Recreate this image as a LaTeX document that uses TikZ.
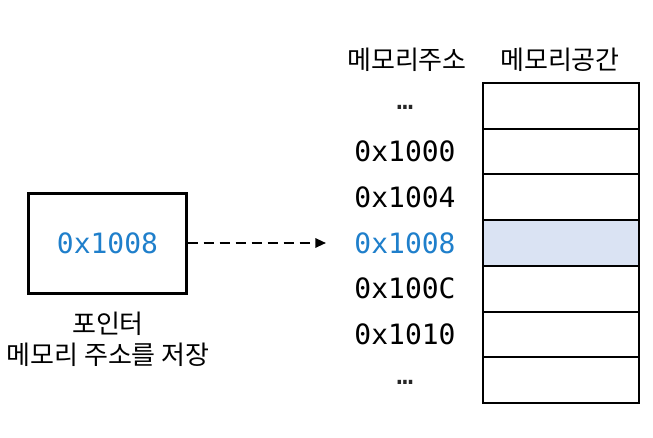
\documentclass[tikz,border=0pt]{standalone}
\usepackage{fontspec}
\setmainfont{Noto Sans CJK KR}
\newfontfamily\monofont{DejaVu Sans Mono}
\usetikzlibrary{arrows.meta}
\definecolor{addrblue}{HTML}{1F7FCB}
\definecolor{cellblue}{HTML}{DAE3F3}
\begin{document}
\begin{tikzpicture}[x=0.75pt,y=-0.75pt,
  cell/.style={draw=black, line width=1.5pt, minimum width=117pt, minimum height=34.3pt, inner sep=0pt},
  addr/.style={font=\monofont\fontsize{21}{24}\selectfont, inner sep=0pt},
  kor/.style={font=\fontsize{19.5}{22}\selectfont, inner sep=0pt},
  ptrbox/.style={draw=black, line width=2.2pt, minimum width=118pt, minimum height=75pt, inner sep=0pt}
]
\useasboundingbox (0,0) rectangle (653,438);

% headers
\node[kor] (hAddr) at (407,60) {메모리주소};
\node[kor] (hMem) at (560,60) {메모리공간};

% memory cells
\node[cell] (c1) at (560.5,105.9) {};
\node[cell] (c2) at (560.5,151.6) {};
\node[cell] (c3) at (560.5,197.3) {};
\node[cell, fill=cellblue] (c4) at (560.5,243.0) {};
\node[cell] (c5) at (560.5,288.7) {};
\node[cell] (c6) at (560.5,334.4) {};
\node[cell] (c7) at (560.5,380.1) {};

% addresses
\node[addr, text=black!85, anchor=base] (a1) at (405,110) {…};
\node[addr] (a2) at (405,151.6) {0x1000};
\node[addr] (a3) at (405,197.3) {0x1004};
\node[addr, text=addrblue] (a4) at (405,243.0) {0x1008};
\node[addr] (a5) at (405,288.7) {0x100C};
\node[addr] (a6) at (405,334.4) {0x1010};
\node[addr, text=black!85, anchor=base] (a7) at (405,384) {…};

% pointer
\node[ptrbox] (ptr) at (107.5,243.5) {};
\node[addr, text=addrblue] (pval) at (107.5,243) {0x1008};
\node[kor] (plabel1) at (108,324) {포인터};
\node[kor] (plabel2) at (108,355) {메모리 주소를 저장};

\coordinate (tip) at (326,243);
\draw[line width=1.5pt, dash pattern=on 7.5pt off 4.5pt, -{Triangle[length=8pt,width=7pt]}] (ptr.east |- tip) -- (tip);
\end{tikzpicture}
\end{document}
